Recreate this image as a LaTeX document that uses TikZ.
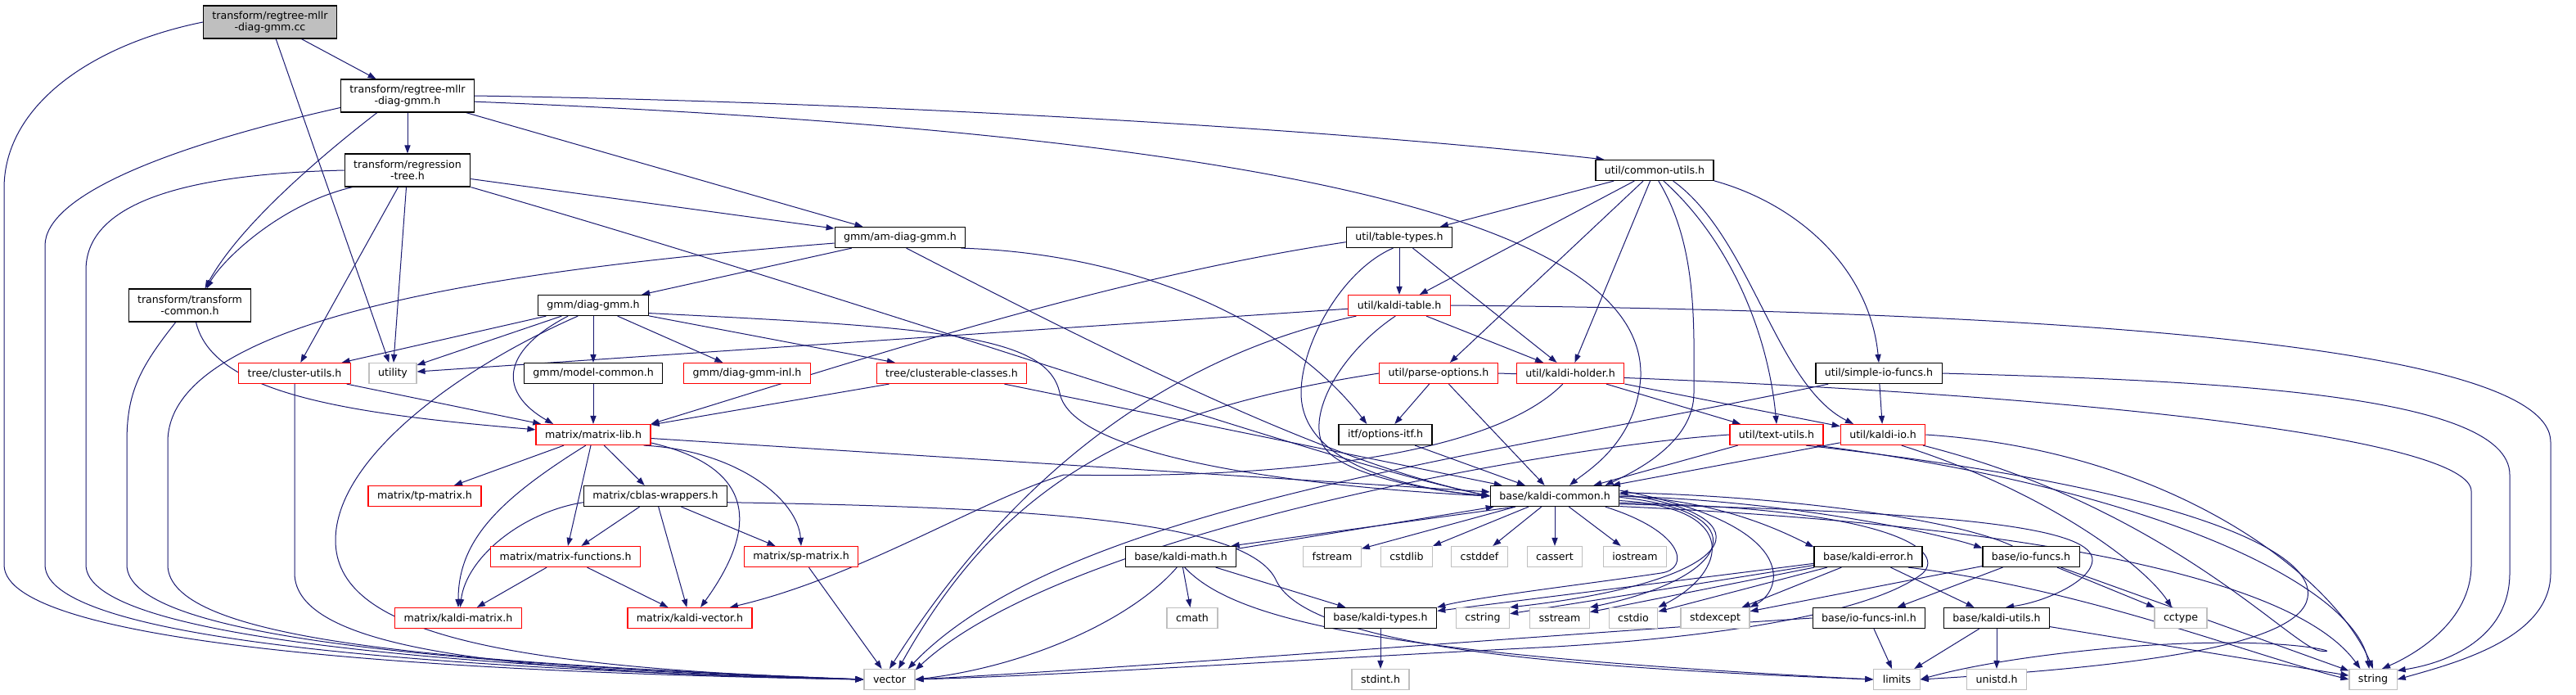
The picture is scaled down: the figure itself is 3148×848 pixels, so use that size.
\documentclass[tikz,border=0pt]{standalone}
\usepackage{fontspec}
\newfontfamily\dotfont{DejaVu Sans}
\usetikzlibrary{arrows.meta}
\definecolor{edgeblue}{RGB}{25,25,112}
\definecolor{sysgray}{RGB}{191,191,191}
\pgfdeclarelayer{edges}
\pgfsetlayers{edges,main}

\begin{document}
\begin{tikzpicture}[x=0.5pt,y=-0.5pt,
  file/.style={draw=black, line width=0.6pt, fill=white, inner xsep=5.5pt, inner ysep=0pt,
    minimum height=12.5pt, font=\dotfont\fontsize{6.3}{7.2}\selectfont},
  redfile/.style={file, draw=red},
  sysfile/.style={file, draw=sysgray},
  twoline/.style={align=center, minimum height=20pt},
  dep/.style={draw=edgeblue, line width=0.5pt, -{Triangle[length=5pt,width=3.6pt]}}]

\useasboundingbox (0,0) rectangle (3148,848);

% Files, row by row
\node[file, twoline, fill=sysgray] (cc) at (330,27) {transform/regtree-mllr\\-diag-gmm.cc};
\node[file, twoline] (rmh) at (498,117) {transform/regtree-mllr\\-diag-gmm.h};
\node[file, twoline] (regtree) at (498,208) {transform/regression\\-tree.h};
\node[file] (cutils) at (2022,208) {util/common-utils.h};
\node[file] (amdiag) at (1100,290) {gmm/am-diag-gmm.h};
\node[file] (tabtypes) at (1710,290) {util/table-types.h};
\node[file, twoline] (tcommon) at (232,373) {transform/transform\\-common.h};
\node[file] (diaggmm) at (725,373) {gmm/diag-gmm.h};
\node[redfile] (kaltable) at (1710,373) {util/kaldi-table.h};

\node[redfile] (clutils) at (360,456) {tree/cluster-utils.h};
\node[sysfile] (utility) at (480,456) {utility};
\node[file] (modelcom) at (725,456) {gmm/model-common.h};
\node[redfile] (diaginl) at (913,456) {gmm/diag-gmm-inl.h};
\node[redfile] (clclasses) at (1163,456) {tree/clusterable-classes.h};
\node[redfile] (parseopt) at (1758,456) {util/parse-options.h};
\node[redfile] (kholder) at (1919,456) {util/kaldi-holder.h};
\node[file] (simpleio) at (2296,456) {util/simple-io-funcs.h};

\node[redfile] (matlib) at (725,531) {matrix/matrix-lib.h};
\node[file] (optitf) at (1693,531) {itf/options-itf.h};
\node[redfile] (textutils) at (2171,531) {util/text-utils.h};
\node[redfile] (kaldiio) at (2301,531) {util/kaldi-io.h};

\node[redfile] (tpmat) at (519,606) {matrix/tp-matrix.h};
\node[file] (cblas) at (801,606) {matrix/cblas-wrappers.h};
\node[file] (kcommon) at (1900,606) {base/kaldi-common.h};

\node[redfile] (mfuncs) at (691,680) {matrix/matrix-functions.h};
\node[redfile] (spmat) at (979,680) {matrix/sp-matrix.h};
\node[file] (kmath) at (1443,680) {base/kaldi-math.h};
\node[sysfile] (fstream) at (1628,680) {fstream};
\node[sysfile] (cstdlib) at (1719,680) {cstdlib};
\node[sysfile] (cstddef) at (1808,680) {cstddef};
\node[sysfile] (cassert) at (1900,680) {cassert};
\node[sysfile] (iostream) at (1998,680) {iostream};
\node[file] (kerror) at (2283,680) {base/kaldi-error.h};
\node[file] (iofuncs) at (2482,680) {base/io-funcs.h};

\node[redfile] (kmatrix) at (560,755) {matrix/kaldi-matrix.h};
\node[redfile] (kvector) at (843,755) {matrix/kaldi-vector.h};
\node[sysfile] (cmath) at (1457,755) {cmath};
\node[file] (ktypes) at (1687,755) {base/kaldi-types.h};
\node[sysfile] (cstring) at (1812,755) {cstring};
\node[sysfile] (sstream) at (1906,755) {sstream};
\node[sysfile] (cstdio) at (1996,755) {cstdio};
\node[sysfile] (stdexcept) at (2096,755) {stdexcept};
\node[file] (iofinl) at (2284,755) {base/io-funcs-inl.h};
\node[file] (kutils) at (2440,755) {base/kaldi-utils.h};
\node[sysfile] (cctype) at (2665,755) {cctype};

\node[sysfile] (vector) at (1087,830) {vector};
\node[sysfile] (stdint) at (1687,830) {stdint.h};
\node[sysfile] (limits) at (2318,830) {limits};
\node[sysfile] (unistd) at (2440,830) {unistd.h};
\node[sysfile] (string) at (2900,830) {string};

\begin{pgfonlayer}{edges}
% the .cc file
\draw[dep] (cc) -- (rmh);
\draw[dep] (cc) -- (utility);
\draw[dep] (cc.west) .. controls (110,55) and (5,130) .. (5,230) -- (5,690) .. controls (5,790) and (560,822) .. (vector.west);

% transform/regtree-mllr-diag-gmm.h
\draw[dep] (rmh) -- (regtree);
\draw[dep] (rmh.209) .. controls (380,200) and (290,280) .. (tcommon.48);
\draw[dep] (rmh) -- (amdiag);
\draw[dep] (rmh.355) .. controls (1600,165) and (2010,280) .. (2005,460) .. controls (2000,540) and (1940,575) .. (kcommon.36);
\draw[dep] (rmh.east) .. controls (1100,125) and (1650,160) .. (cutils.168);
\draw[dep] (rmh.190) .. controls (200,180) and (55,240) .. (55,300) -- (55,690) .. controls (55,785) and (560,818) .. (vector.west);

% transform/regression-tree.h
\draw[dep] (regtree.197) .. controls (340,250) and (270,320) .. (tcommon.45);
\draw[dep] (regtree) -- (clutils);
\draw[dep] (regtree) -- (utility);
\draw[dep] (regtree) -- (amdiag);
\draw[dep] (regtree.south east) .. controls (1100,380) and (1600,560) .. (kcommon.west);
\draw[dep] (regtree.west) .. controls (250,212) and (105,240) .. (105,330) -- (105,690) .. controls (105,780) and (560,815) .. (vector.west);

% transform/transform-common.h
\draw[dep] (tcommon.290) .. controls (260,480) and (420,505) .. (matlib.175);
\draw[dep] (tcommon.230) .. controls (170,450) and (155,480) .. (155,540) -- (155,690) .. controls (155,780) and (560,812) .. (vector.west);

% gmm/am-diag-gmm.h
\draw[dep] (amdiag) -- (diaggmm);
\draw[dep] (amdiag.300) .. controls (1450,480) and (1650,570) .. (kcommon.west);
\draw[dep] (amdiag.350) .. controls (1400,310) and (1580,400) .. (optitf.150);
\draw[dep] (amdiag.185) .. controls (600,330) and (205,390) .. (205,540) -- (205,690) .. controls (205,785) and (560,810) .. (vector.west);

% gmm/diag-gmm.h
\draw[dep] (diaggmm) -- (clutils);
\draw[dep] (diaggmm) -- (utility);
\draw[dep] (diaggmm.203) .. controls (610,430) and (610,480) .. (matlib.165);
\draw[dep] (diaggmm) -- (modelcom);
\draw[dep] (diaggmm) -- (diaginl);
\draw[dep] (diaggmm) -- (clclasses);
\draw[dep] (diaggmm.352) .. controls (1150,400) and (1280,410) .. (1295,480) .. controls (1310,560) and (1600,595) .. (kcommon.west);
\draw[dep] (diaggmm.215) .. controls (560,450) and (410,560) .. (410,660) .. controls (410,770) and (600,815) .. (vector.west);

% tree and gmm headers
\draw[dep] (modelcom) -- (matlib);
\draw[dep] (clutils) -- (matlib);
\draw[dep] (clutils.south) -- (360,700) .. controls (360,790) and (600,822) .. (vector.west);
\draw[dep] (clclasses) -- (matlib);
\draw[dep] (clclasses) -- (kcommon);

% matrix/matrix-lib.h
\draw[dep] (matlib) -- (tpmat);
\draw[dep] (matlib.235) .. controls (610,610) and (560,660) .. (kmatrix.north);
\draw[dep] (matlib) -- (mfuncs);
\draw[dep] (matlib) -- (cblas);
\draw[dep] (matlib.352) .. controls (920,570) and (930,640) .. (kvector.45);
\draw[dep] (matlib.348) .. controls (900,550) and (975,610) .. (spmat.north);
\draw[dep] (matlib) -- (kcommon);

% matrix/cblas-wrappers.h
\draw[dep] (cblas.185) .. controls (640,625) and (570,680) .. (kmatrix.80);
\draw[dep] (cblas) -- (mfuncs);
\draw[dep] (cblas) -- (kvector);
\draw[dep] (cblas) -- (spmat);
\draw[dep] (cblas.355) .. controls (1300,620) and (1530,640) .. (1560,710) .. controls (1600,790) and (1900,815) .. (limits.west);

% other matrix headers
\draw[dep] (mfuncs) -- (kmatrix);
\draw[dep] (mfuncs) -- (kvector);
\draw[dep] (spmat) -- (vector);

% util/table-types.h
\draw[dep] (tabtypes) -- (kaltable);
\draw[dep] (tabtypes) -- (kholder);
\draw[dep] (tabtypes.185) .. controls (1350,340) and (1050,440) .. (matlib.north east);
\draw[dep] (tabtypes.240) .. controls (1640,330) and (1590,420) .. (1590,480) .. controls (1590,560) and (1700,595) .. (kcommon.west);

% util/common-utils.h
\draw[dep] (cutils) -- (tabtypes);
\draw[dep] (cutils) -- (kaltable);
\draw[dep] (cutils) -- (parseopt);
\draw[dep] (cutils) -- (kholder);
\draw[dep] (cutils.290) .. controls (2075,300) and (2070,400) .. (2070,480) .. controls (2070,540) and (2000,575) .. (kcommon.12);
\draw[dep] (cutils.310) .. controls (2110,290) and (2160,400) .. (textutils.north);
\draw[dep] (cutils.330) .. controls (2140,290) and (2170,470) .. (kaldiio.160);
\draw[dep] (cutils.350) .. controls (2200,250) and (2285,330) .. (simpleio.north);

% util/parse-options.h
\draw[dep] (parseopt) -- (optitf);
\draw[dep] (parseopt) -- (kcommon);
\draw[dep] (parseopt.west) .. controls (1400,500) and (1230,580) .. (vector.50);
\draw[dep] (parseopt.east) .. controls (2600,480) and (3020,540) .. (3020,600) -- (3020,690) .. controls (3020,760) and (2950,800) .. (string.50);

% util/kaldi-holder.h
\draw[dep] (kholder) -- (kaldiio);
\draw[dep] (kholder) -- (textutils);
\draw[dep] (kholder.235) .. controls (1820,560) and (1550,585) .. (1300,580) .. controls (1200,610) and (1050,705) .. (kvector.15);

% util/kaldi-table.h
\draw[dep] (kaltable) -- (kholder);
\draw[dep] (kaltable) -- (utility);
\draw[dep] (kaltable.250) .. controls (1640,430) and (1600,500) .. (1615,540) .. controls (1630,580) and (1750,600) .. (kcommon.west);
\draw[dep] (kaltable.194) .. controls (1450,430) and (1250,560) .. (vector.north);
\draw[dep] (kaltable.east) .. controls (2500,380) and (3117,420) .. (3117,540) -- (3117,700) .. controls (3117,780) and (3000,810) .. (string.east);

% util/simple-io-funcs.h
\draw[dep] (simpleio) -- (kaldiio);
\draw[dep] (simpleio.east) .. controls (2700,465) and (3067,480) .. (3067,580) -- (3067,700) .. controls (3067,780) and (2990,810) .. (string.20);
\draw[dep] (simpleio.192) .. controls (1800,560) and (1300,620) .. (vector.30);

% itf, text and io utilities
\draw[dep] (optitf) -- (kcommon);
\draw[dep] (textutils) -- (kcommon);
\draw[dep] (textutils.west) .. controls (1900,545) and (1300,650) .. (vector.20);
\draw[dep] (textutils.345) .. controls (2650,600) and (2880,720) .. (string.110);
\draw[dep] (textutils.340) .. controls (2700,600) and (2830,680) .. (2820,730) .. controls (2810,790) and (2600,815) .. (limits.east);
\draw[dep] (kaldiio) -- (kcommon);
\draw[dep] (kaldiio.330) .. controls (2500,600) and (2620,690) .. (cctype.130);
\draw[dep] (kaldiio.east) .. controls (2650,550) and (2850,700) .. (string.north);
\draw[dep] (kaldiio.345) .. controls (2650,620) and (2800,790) .. (2835,795) .. controls (2870,800) and (2800,775) .. (2600,790) .. controls (2480,800) and (2400,815) .. (limits.east);

% base/kaldi-common.h
\draw[dep] (kcommon) -- (fstream);
\draw[dep] (kcommon) -- (cstdlib);
\draw[dep] (kcommon) -- (cstddef);
\draw[dep] (kcommon) -- (cassert);
\draw[dep] (kcommon) -- (iostream);
\draw[dep] (kcommon.195) -- (kmath.12);
\draw[dep] (kmath.8) -- (kcommon.190);
\draw[dep] (kcommon.348) .. controls (2060,650) and (2065,695) .. (2030,700) .. controls (1950,712) and (1800,730) .. (ktypes.north east);
\draw[dep] (kcommon.356) .. controls (2130,620) and (2110,700) .. (cstdio.north east);
\draw[dep] (kcommon.359) .. controls (2150,625) and (2120,705) .. (sstream.north east);
\draw[dep] (kcommon.2) .. controls (2170,630) and (2130,710) .. (cstring.north east);
\draw[dep] (kcommon.5) .. controls (2200,640) and (2180,720) .. (stdexcept.north east);
\draw[dep] (kcommon.east) .. controls (2100,610) and (2180,650) .. (kerror.170);
\draw[dep] (kcommon.east) .. controls (2200,612) and (2380,655) .. (iofuncs.170);
\draw[dep] (iofuncs.150) .. controls (2380,630) and (2150,605) .. (kcommon.3);
\draw[dep] (kcommon.353) .. controls (2350,625) and (2560,640) .. (2557,685) .. controls (2555,710) and (2500,735) .. (kutils.50);
\draw[dep] (kcommon.351) .. controls (2450,640) and (2800,700) .. (string.140);
\draw[dep] (kcommon.354) .. controls (2300,620) and (2380,670) .. (2350,700) .. controls (2300,740) and (2150,775) .. (1900,790) .. controls (1600,805) and (1300,825) .. (vector.east);

% base/kaldi-math.h
\draw[dep] (kmath) -- (cmath);
\draw[dep] (kmath) -- (ktypes);
\draw[dep] (kmath.250) .. controls (1380,760) and (1250,815) .. (vector.east);
\draw[dep] (kmath.290) .. controls (1510,760) and (1700,800) .. (limits.west);

% base/kaldi-error.h
\draw[dep] (kerror) -- (ktypes);
\draw[dep] (kerror) -- (cstring);
\draw[dep] (kerror) -- (sstream);
\draw[dep] (kerror) -- (cstdio);
\draw[dep] (kerror) -- (stdexcept);
\draw[dep] (kerror) -- (kutils);
\draw[dep] (kerror.345) .. controls (2550,720) and (2750,800) .. (string.west);

% base/io-funcs.h and the rest
\draw[dep] (iofuncs) -- (iofinl);
\draw[dep] (iofuncs) -- (cctype);
\draw[dep] (iofuncs) -- (string);
\draw[dep] (iofuncs) -- (stdexcept);
\draw[dep] (iofinl) -- (limits);
\draw[dep] (iofinl.west) .. controls (1900,775) and (1400,815) .. (vector.east);
\draw[dep] (kutils) -- (limits);
\draw[dep] (kutils) -- (unistd);
\draw[dep] (kutils) -- (string);
\draw[dep] (ktypes) -- (stdint);
\end{pgfonlayer}

\end{tikzpicture}
\end{document}
